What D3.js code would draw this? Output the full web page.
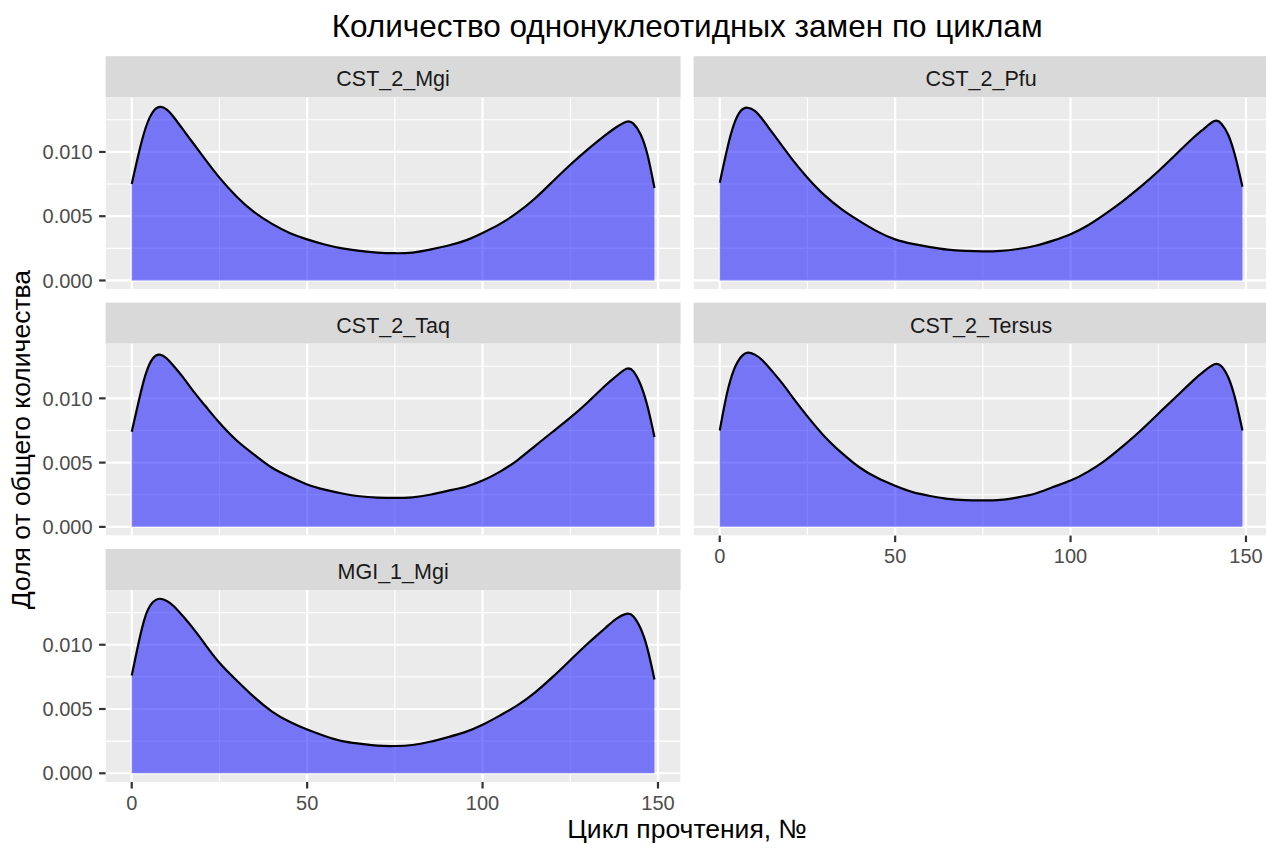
<!DOCTYPE html>
<html>
<head>
<meta charset="utf-8">
<script src="https://cdn.jsdelivr.net/npm/d3@7"></script>
<style>
  html, body { margin: 0; padding: 0; background: #ffffff; }
  text { font-family: "Liberation Sans", Arial, sans-serif; }
</style>
</head>
<body>
<script>
// ---------------- DATA ----------------
const chartTitle = "Количество однонуклеотидных замен по циклам";
const xTitle = "Цикл прочтения, №";
const yTitle = "Доля от общего количества";

const panelNames = ["CST_2_Mgi", "CST_2_Pfu", "CST_2_Taq", "CST_2_Tersus", "MGI_1_Mgi"];

const cycles = [0, 2, 4, 6, 8, 10, 12, 15, 18, 21, 25, 30, 35, 40, 45, 50, 55, 60, 65, 70,
                75, 80, 85, 90, 95, 100, 105, 110, 115, 120, 125, 130, 135, 138, 141, 143, 145, 147, 149];

const densCST2Mgi = [0.0075, 0.0099, 0.0119, 0.0131, 0.0135, 0.0133, 0.0127, 0.0116, 0.0105, 0.0094,
  0.0080, 0.0065, 0.0053, 0.0044, 0.0037, 0.0032, 0.0028, 0.0025, 0.0023, 0.00217,
  0.00212, 0.00217, 0.0024, 0.0027, 0.0031, 0.0037, 0.0044, 0.0053, 0.0064, 0.0077,
  0.0090, 0.0102, 0.0113, 0.0119, 0.01235, 0.0122, 0.0114, 0.0098, 0.0072];

const densCST2Pfu = [0.0076, 0.0101, 0.0121, 0.0132, 0.01344, 0.0132, 0.0126, 0.0115, 0.0104, 0.0093,
  0.0080, 0.0066, 0.0055, 0.0046, 0.0038, 0.0032, 0.00285, 0.0026, 0.0024, 0.0023,
  0.00226, 0.0023, 0.00245, 0.0027, 0.0031, 0.0036, 0.0043, 0.0052, 0.0062, 0.0073,
  0.0085, 0.0098, 0.0111, 0.0118, 0.0124, 0.0122, 0.0113, 0.0096, 0.0073];

const densCST2Taq = [0.0074, 0.0098, 0.0119, 0.0131, 0.0134, 0.0131, 0.0125, 0.0115, 0.0104, 0.0094,
  0.0081, 0.0067, 0.0056, 0.0046, 0.0039, 0.0033, 0.0029, 0.0026, 0.00238, 0.00228,
  0.00225, 0.0023, 0.0025, 0.0028, 0.0031, 0.0036, 0.0043, 0.0052, 0.0063, 0.0074,
  0.0085, 0.0097, 0.0110, 0.0117, 0.0123, 0.0121, 0.0111, 0.0094, 0.0070];

const densCST2Tersus = [0.0075, 0.0103, 0.0122, 0.0132, 0.01356, 0.0134, 0.0130, 0.0121, 0.0111, 0.0100,
  0.0086, 0.0070, 0.0057, 0.0046, 0.0038, 0.0032, 0.0027, 0.0024, 0.00218, 0.00208,
  0.00206, 0.0021, 0.0023, 0.0026, 0.0031, 0.0036, 0.0043, 0.0052, 0.0063, 0.0075,
  0.0088, 0.0101, 0.0114, 0.0121, 0.01265, 0.0125, 0.0116, 0.0099, 0.0075];

const densMGI1Mgi = [0.0076, 0.0102, 0.0123, 0.0133, 0.01358, 0.0134, 0.0130, 0.0121, 0.0111, 0.0100,
  0.0086, 0.0072, 0.0059, 0.0048, 0.0040, 0.0034, 0.0029, 0.0025, 0.0023, 0.00215,
  0.00212, 0.0022, 0.00245, 0.0028, 0.0032, 0.00377, 0.0045, 0.0053, 0.0063, 0.0075,
  0.0088, 0.0101, 0.0113, 0.0120, 0.0124, 0.0122, 0.0113, 0.0097, 0.0073];

const panelValues = [densCST2Mgi, densCST2Pfu, densCST2Taq, densCST2Tersus, densMGI1Mgi];

const xTicks = [0, 50, 100, 150];
const xMinor = [25, 75, 125];
const yTicks = [0, 0.005, 0.010];
const yTickLabels = ["0.000", "0.005", "0.010"];
const yMinor = [0.0025, 0.0075, 0.0125];

// ---------------- LAYOUT ----------------
const W = 1266, H = 848;
const panelW = 575, panelH = 192, stripH = 41;
const colX = [105.6, 693.6];
const rowY = [97.2, 343.6, 590.0];

const svg = d3.select("body").append("svg")
  .attr("width", W).attr("height", H)
  .style("display", "block")
  .style("background", "#ffffff");

const xMin = d3.min(cycles), xMax = d3.max(cycles);
const xPad = (xMax - xMin) * 0.05;
const x = d3.scaleLinear().domain([xMin - xPad, xMax + xPad]).range([0, panelW]);

const yMaxData = d3.max(panelValues.flat());
const y = d3.scaleLinear().domain([-0.05 * yMaxData, 1.05 * yMaxData]).range([panelH, 0]);

const curve = d3.curveNatural;
const area = d3.area()
  .x(d => x(d[0])).y0(y(0)).y1(d => y(d[1]))
  .curve(curve);
const line = d3.line()
  .x(d => x(d[0])).y(d => y(d[1]))
  .curve(curve);

const defs = svg.append("defs");

panelNames.forEach((name, i) => {
  const col = i % 2, row = Math.floor(i / 2);
  const g = svg.append("g").attr("transform", `translate(${colX[col]},${rowY[row]})`);

  // strip
  g.append("rect").attr("x", 0).attr("y", -stripH).attr("width", panelW).attr("height", stripH)
    .attr("fill", "#D9D9D9");
  g.append("text").attr("x", panelW / 2).attr("y", -stripH / 2 + 2).attr("dy", "0.36em")
    .attr("text-anchor", "middle").attr("font-size", 21.5).attr("fill", "#1A1A1A").text(name);

  // clip
  const cid = "clip" + i;
  defs.append("clipPath").attr("id", cid).append("rect")
    .attr("width", panelW).attr("height", panelH);

  const pg = g.append("g").attr("clip-path", `url(#${cid})`);
  pg.append("rect").attr("width", panelW).attr("height", panelH).attr("fill", "#EBEBEB");

  // minor grid
  pg.selectAll(".ymin").data(yMinor).join("line")
    .attr("x1", 0).attr("x2", panelW).attr("y1", d => y(d)).attr("y2", d => y(d))
    .attr("stroke", "#ffffff").attr("stroke-width", 1.1);
  pg.selectAll(".xmin").data(xMinor).join("line")
    .attr("y1", 0).attr("y2", panelH).attr("x1", d => x(d)).attr("x2", d => x(d))
    .attr("stroke", "#ffffff").attr("stroke-width", 1.1);
  // major grid
  pg.selectAll(".ymaj").data(yTicks).join("line")
    .attr("x1", 0).attr("x2", panelW).attr("y1", d => y(d)).attr("y2", d => y(d))
    .attr("stroke", "#ffffff").attr("stroke-width", 2.2);
  pg.selectAll(".xmaj").data(xTicks).join("line")
    .attr("y1", 0).attr("y2", panelH).attr("x1", d => x(d)).attr("x2", d => x(d))
    .attr("stroke", "#ffffff").attr("stroke-width", 2.2);

  const pts = cycles.map((c, k) => [c, panelValues[i][k]]);
  pg.append("path").datum(pts).attr("d", area).attr("fill", "rgba(0,0,255,0.5)");
  pg.append("path").datum(pts).attr("d", line).attr("fill", "none")
    .attr("stroke", "#000000").attr("stroke-width", 2.2).attr("stroke-linejoin", "round");

  // y axis on left column
  if (col === 0) {
    const ya = g.append("g");
    ya.selectAll("line").data(yTicks).join("line")
      .attr("x1", -6.5).attr("x2", 0).attr("y1", d => y(d)).attr("y2", d => y(d))
      .attr("stroke", "#333333").attr("stroke-width", 2.2);
    ya.selectAll("text").data(yTicks).join("text")
      .attr("x", -13).attr("y", d => y(d)).attr("dy", "0.36em")
      .attr("text-anchor", "end").attr("font-size", 20).attr("fill", "#4D4D4D")
      .text((d, k) => yTickLabels[k]);
  }
  // x axis on bottom-most panel of each column
  const hasBelow = (i + 2) < panelNames.length;
  if (!hasBelow) {
    const xa = g.append("g").attr("transform", `translate(0,${panelH})`);
    xa.selectAll("line").data(xTicks).join("line")
      .attr("x1", d => x(d)).attr("x2", d => x(d)).attr("y1", 0).attr("y2", 6.5)
      .attr("stroke", "#333333").attr("stroke-width", 2.2);
    xa.selectAll("text").data(xTicks).join("text")
      .attr("x", d => x(d)).attr("y", 27.5)
      .attr("text-anchor", "middle").attr("font-size", 20).attr("fill", "#4D4D4D")
      .text(d => d);
  }
});

const panelsLeft = colX[0], panelsRight = colX[1] + panelW;
const panelsCenterX = (panelsLeft + panelsRight) / 2;

svg.append("text").attr("x", panelsCenterX).attr("y", 37)
  .attr("text-anchor", "middle").attr("font-size", 31.5).attr("fill", "#000000").text(chartTitle);

svg.append("text").attr("x", panelsCenterX).attr("y", 838)
  .attr("text-anchor", "middle").attr("font-size", 26.5).attr("fill", "#000000").text(xTitle);

const yCenter = (rowY[0] + rowY[2] + panelH) / 2;
svg.append("text").attr("transform", `translate(30,${yCenter}) rotate(-90)`)
  .attr("text-anchor", "middle").attr("font-size", 26.5).attr("fill", "#000000").text(yTitle);
</script>
</body>
</html>
